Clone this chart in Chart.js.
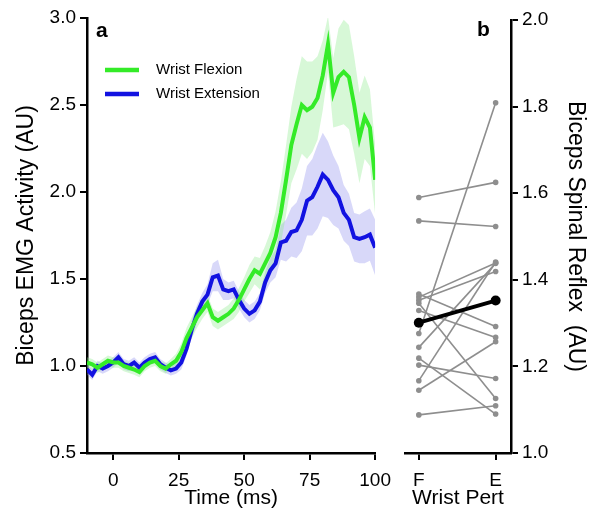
<!DOCTYPE html>
<html>
<head>
<meta charset="utf-8">
<script src="https://cdn.jsdelivr.net/npm/chart.js@4.4.1/dist/chart.umd.min.js"></script>
<style>
body { margin: 0; background: #fff; }
#wrap { position: relative; width: 589px; height: 516px; }
canvas { position: absolute; top: 0; }
</style>
</head>
<body>
<div id="wrap">
<canvas id="emgChart" width="400" height="516" style="left:0"></canvas>
<canvas id="reflexChart" width="189" height="516" style="left:400px"></canvas>
</div>
<script>
// Panel a: tiempo (ms) y actividad EMG
const tiempo = [-10, -8, -6, -4, -2, 0, 2, 4, 6, 8, 10, 12, 14, 16, 18, 20, 22, 24, 26, 28,
    30, 32, 34, 36, 38, 40, 42, 44, 46, 48, 50, 52, 54, 56, 58, 60, 62, 64, 66, 68,
    70, 72, 74, 76, 78, 80, 82, 84, 86, 88, 90, 92, 94, 96, 98, 100];
const flexion = [1.02, 1.01, 0.99, 1.01, 1.03, 1.02, 1.02, 1.00, 0.99, 0.98,
    0.965, 1.00, 1.02, 1.03, 1.00, 0.985, 1.01, 1.03, 1.08, 1.16,
    1.22, 1.28, 1.32, 1.36, 1.28, 1.26, 1.28, 1.30, 1.33, 1.38,
    1.44, 1.50, 1.55, 1.53, 1.59, 1.65, 1.74, 1.88, 2.07, 2.27,
    2.39, 2.50, 2.47, 2.49, 2.54, 2.67, 2.85, 2.57, 2.66, 2.69,
    2.66, 2.50, 2.31, 2.43, 2.37, 2.07];
const extension = [0.98, 0.95, 1.00, 0.985, 1.00, 1.02, 1.05, 1.01, 1.00, 1.02,
    0.99, 1.02, 1.04, 1.05, 1.01, 0.99, 0.975, 0.985, 1.02, 1.10,
    1.21, 1.30, 1.37, 1.41, 1.51, 1.52, 1.44, 1.43, 1.44, 1.38,
    1.33, 1.30, 1.32, 1.37, 1.48, 1.55, 1.59, 1.71, 1.72, 1.77,
    1.78, 1.84, 1.95, 1.97, 2.03, 2.10, 2.07, 2.01, 1.97, 1.88,
    1.84, 1.74, 1.73, 1.74, 1.755, 1.68];
const semFlexion = [0.03, 0.03, 0.03, 0.03, 0.03, 0.03, 0.03, 0.03, 0.03, 0.03,
    0.03, 0.03, 0.03, 0.03, 0.03, 0.03, 0.03, 0.04, 0.05, 0.06,
    0.06, 0.06, 0.05, 0.05, 0.05, 0.05, 0.05, 0.05, 0.06, 0.07,
    0.07, 0.08, 0.08, 0.09, 0.10, 0.12, 0.15, 0.18, 0.20, 0.22,
    0.26, 0.28, 0.28, 0.26, 0.24, 0.20, 0.16, 0.20, 0.28, 0.30,
    0.30, 0.28, 0.26, 0.24, 0.22, 0.20];
const semExtension = [0.03, 0.03, 0.03, 0.03, 0.03, 0.03, 0.03, 0.03, 0.03, 0.03,
    0.03, 0.03, 0.03, 0.03, 0.03, 0.03, 0.03, 0.03, 0.04, 0.04,
    0.05, 0.05, 0.05, 0.06, 0.08, 0.09, 0.06, 0.05, 0.05, 0.05,
    0.05, 0.05, 0.05, 0.05, 0.06, 0.07, 0.08, 0.10, 0.12, 0.14,
    0.16, 0.18, 0.20, 0.22, 0.24, 0.24, 0.22, 0.20, 0.18, 0.16,
    0.15, 0.14, 0.14, 0.15, 0.15, 0.16];
const ticksTiempo = [0, 25, 50, 75, 100];

// Panel b: reflejo espinal por sujeto (F = flexion, E = extension)
const condiciones = ['F', 'E'];
const reflejoF = [1.590, 1.536, 1.367, 1.360, 1.353, 1.346, 1.329, 1.276, 1.244, 1.219, 1.203, 1.167, 1.145, 1.088];
const reflejoE = [1.625, 1.523, 1.292, 1.439, 1.419, 1.126, 1.267, 1.809, 1.438, 1.090, 1.172, 1.441, 1.257, 1.109];
const mediaReflejo = [1.301, 1.352];

const VERDE = 'rgb(52, 235, 40)';
const AZUL = 'rgb(18, 18, 225)';

Chart.defaults.font.family = '"Liberation Sans", Arial, sans-serif';
Chart.defaults.color = '#000';

// Etiqueta del panel y leyenda dibujadas dentro del area del grafico
const etiquetasPlugin = {
    id: 'etiquetas',
    afterDraw(chart, args, opts) {
        const ctx = chart.ctx;
        const area = chart.chartArea;
        ctx.save();
        ctx.fillStyle = '#000';
        ctx.textBaseline = 'middle';
        ctx.textAlign = 'left';
        ctx.font = 'bold 21px "Liberation Sans", Arial, sans-serif';
        const lx = opts.letraX >= 0 ? area.left + opts.letraX : area.right + opts.letraX;
        ctx.fillText(opts.letra, lx, area.top + opts.letraY);

        if (opts.leyenda) {
            ctx.font = '15px "Liberation Sans", Arial, sans-serif';
            let fila = 0;
            chart.data.datasets.forEach(ds => {
                if (!ds.enLeyenda) return;
                const y = area.top + 52 + fila * 24;
                ctx.strokeStyle = ds.borderColor;
                ctx.lineWidth = 4.5;
                ctx.beginPath();
                ctx.moveTo(area.left + 18, y);
                ctx.lineTo(area.left + 52, y);
                ctx.stroke();
                ctx.fillText(ds.label, area.left + 69, y);
                fila++;
            });
        }
        ctx.restore();
    }
};

function ejeNegro(extra) {
    return Object.assign({
        border: { display: true, color: '#000', width: 2.5 },
        grid: { display: true, drawOnChartArea: false, drawTicks: true, tickLength: 7, color: '#000', lineWidth: 2 }
    }, extra);
}

function puntos(valores, desvio, signo) {
    return tiempo.map((t, i) => ({ x: t, y: valores[i] + signo * (desvio ? desvio[i] : 0) }));
}

// Grafico a
new Chart(document.getElementById('emgChart').getContext('2d'), {
    type: 'line',
    data: {
        datasets: [
            { data: puntos(flexion, semFlexion, 1), fill: '+1', backgroundColor: 'rgba(140, 235, 140, 0.35)', borderWidth: 0, pointRadius: 0, order: 10 },
            { data: puntos(flexion, semFlexion, -1), fill: false, borderWidth: 0, pointRadius: 0, order: 10 },
            { data: puntos(extension, semExtension, 1), fill: '+1', backgroundColor: 'rgba(125, 125, 235, 0.30)', borderWidth: 0, pointRadius: 0, order: 11 },
            { data: puntos(extension, semExtension, -1), fill: false, borderWidth: 0, pointRadius: 0, order: 11 },
            { label: 'Wrist Flexion', enLeyenda: true, data: puntos(flexion, null, 0), borderColor: VERDE, borderWidth: 4, pointRadius: 0, fill: false, order: 0 },
            { label: 'Wrist Extension', enLeyenda: true, data: puntos(extension, null, 0), borderColor: AZUL, borderWidth: 4, pointRadius: 0, fill: false, order: 1 }
        ]
    },
    options: {
        responsive: false,
        animation: false,
        devicePixelRatio: 1,
        layout: { padding: { left: 0, top: 18, right: 23, bottom: 0 } },
        plugins: {
            legend: { display: false },
            tooltip: { enabled: false },
            etiquetas: { letra: 'a', letraX: 9, letraY: 13, leyenda: true }
        },
        scales: {
            x: ejeNegro({
                type: 'linear', min: -10, max: 100,
                afterBuildTicks: s => { s.ticks = ticksTiempo.map(v => ({ value: v })); },
                afterFit: s => { s.height = 63; },
                ticks: { font: { size: 19 }, padding: 9, maxRotation: 0 },
                title: { display: true, text: 'Time (ms)', font: { size: 21 }, padding: { top: 0, bottom: 5 } }
            }),
            y: ejeNegro({
                min: 0.5, max: 3.0,
                afterFit: s => { s.width = 87; },
                ticks: { stepSize: 0.5, font: { size: 19 }, padding: 4, callback: v => v.toFixed(1) },
                title: { display: true, text: 'Biceps EMG Activity (AU)', font: { size: 23 }, padding: { top: 13, bottom: 0 } }
            })
        }
    },
    plugins: [etiquetasPlugin]
});

// Grafico b
const datasetsReflejo = reflejoF.map((f, i) => ({
    data: [{ x: 0, y: f }, { x: 1, y: reflejoE[i] }],
    borderColor: '#8e8e8e', borderWidth: 1.6,
    pointRadius: 2.8, pointBackgroundColor: '#8e8e8e', pointBorderWidth: 0,
    order: 5
}));
datasetsReflejo.push({
    data: [{ x: 0, y: mediaReflejo[0] }, { x: 1, y: mediaReflejo[1] }],
    borderColor: '#000', borderWidth: 4,
    pointRadius: 5, pointBackgroundColor: '#000', pointBorderWidth: 0,
    order: 0
});

new Chart(document.getElementById('reflexChart').getContext('2d'), {
    type: 'line',
    data: { datasets: datasetsReflejo },
    options: {
        responsive: false,
        animation: false,
        devicePixelRatio: 1,
        layout: { padding: { left: 3, top: 20, right: 0, bottom: 0 } },
        plugins: {
            legend: { display: false },
            tooltip: { enabled: false },
            etiquetas: { letra: 'b', letraX: -34, letraY: 10, leyenda: false }
        },
        scales: {
            x: ejeNegro({
                type: 'linear', min: -0.18, max: 1.2,
                afterBuildTicks: s => { s.ticks = condiciones.map((c, i) => ({ value: i })); },
                afterFit: s => { s.height = 63; },
                ticks: { font: { size: 19 }, padding: 9, maxRotation: 0, callback: v => condiciones[v] },
                title: { display: true, text: 'Wrist Pert', font: { size: 21 }, padding: { top: 0, bottom: 5 } }
            }),
            y: ejeNegro({
                position: 'right',
                min: 1.0, max: 2.0,
                afterFit: s => { s.width = 78; },
                ticks: { stepSize: 0.2, font: { size: 19 }, padding: 4, callback: v => v.toFixed(1) },
                title: { display: true, text: 'Biceps Spinal Reflex  (AU)', font: { size: 23 }, padding: { top: 0, bottom: 0 } }
            })
        }
    },
    plugins: [etiquetasPlugin]
});
</script>
</body>
</html>
